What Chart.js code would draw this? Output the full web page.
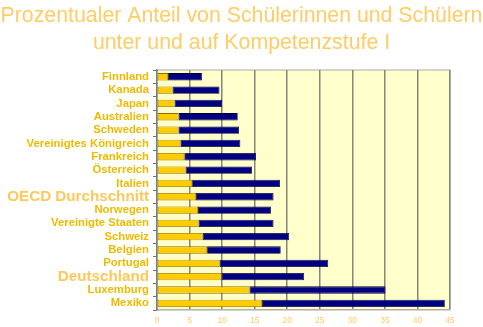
<!DOCTYPE html>
<html>
<head>
<meta charset="utf-8">
<script src="https://cdn.jsdelivr.net/npm/chart.js@4/dist/chart.umd.min.js"></script>
<style>
  html, body { margin: 0; padding: 0; background: #ffffff; }
  #wrap { width: 483px; height: 327px; }
</style>
</head>
<body>
<div id="wrap"><canvas id="myChart" width="483" height="327"></canvas></div>
<script>
const laender = ["Finnland", "Kanada", "Japan", "Australien", "Schweden", "Vereinigtes Königreich",
  "Frankreich", "Österreich", "Italien", "OECD Durchschnitt", "Norwegen", "Vereinigte Staaten",
  "Schweiz", "Belgien", "Portugal", "Deutschland", "Luxemburg", "Mexiko"];
// unter Kompetenzstufe I
const unterStufe1 = [1.7, 2.4, 2.7, 3.3, 3.3, 3.6, 4.2, 4.4, 5.4, 6.0, 6.3, 6.4, 7.0, 7.7, 9.6, 9.9, 14.2, 16.1];
// auf Kompetenzstufe I
const aufStufe1 = [5.2, 7.2, 7.3, 9.1, 9.3, 9.2, 11.0, 10.2, 13.5, 11.9, 11.2, 11.5, 13.3, 11.3, 16.7, 12.7, 20.9, 28.1];
const xTicks = [0, 5, 10, 15, 20, 25, 30, 35, 40, 45];

const hervorheben = ["OECD Durchschnitt", "Deutschland"];

const plotHintergrund = {
  id: "plotHintergrund",
  beforeDraw(chart) {
    const { ctx, chartArea: a } = chart;
    ctx.save();
    ctx.fillStyle = "#ffffcc";
    ctx.fillRect(a.left, a.top, a.right - a.left, a.bottom - a.top);
    ctx.strokeStyle = "#c8c8c0";
    ctx.lineWidth = 1.5;
    ctx.beginPath();
    ctx.moveTo(a.left, a.top);
    ctx.lineTo(a.right, a.top);
    ctx.lineTo(a.right, a.bottom);
    ctx.stroke();
    ctx.restore();
  }
};

const config = {
  type: "bar",
  data: {
    labels: laender,
    datasets: [
      {
        label: "unter Kompetenzstufe I",
        data: unterStufe1,
        backgroundColor: "#ffcc00",
        borderColor: "#8a7000",
        borderWidth: 0.8,
        borderSkipped: false,
        categoryPercentage: 1,
        barPercentage: 0.55
      },
      {
        label: "auf Kompetenzstufe I",
        data: aufStufe1,
        backgroundColor: "#000080",
        borderColor: "#000033",
        borderWidth: 0.8,
        borderSkipped: false,
        categoryPercentage: 1,
        barPercentage: 0.55
      }
    ]
  },
  options: {
    indexAxis: "y",
    responsive: false,
    animation: false,
    layout: { padding: 0 },
    plugins: {
      legend: { display: false },
      tooltip: { enabled: false },
      title: {
        display: true,
        text: ["Prozentualer Anteil von Schülerinnen und Schülern", "unter und auf Kompetenzstufe I"],
        color: "#ffcc66",
        font: { family: "Liberation Sans, Arial, sans-serif", size: 21.3, weight: "normal", lineHeight: 1.27 },
        padding: { top: 3, bottom: 13 }
      }
    },
    scales: {
      x: {
        stacked: true,
        min: 0,
        max: 45,
        afterBuildTicks(scale) { scale.ticks = xTicks.map(v => ({ value: v })); },
        afterFit(scale) { scale.height = 17; },
        grid: { color: "#85857a", lineWidth: 1.5, drawTicks: false },
        border: { display: true, color: "#b0b0a0", width: 1.5 },
        ticks: {
          color: "#ffcc66",
          padding: 6,
          font: { family: "Liberation Sans, Arial, sans-serif", size: 8.5 }
        }
      },
      y: {
        stacked: true,
        afterFit(scale) { scale.width = 157; },
        grid: { drawOnChartArea: false, offset: true, tickLength: 4, color: "#707070" },
        border: { display: true, color: "#808070", width: 1.5 },
        ticks: {
          padding: 4,
          autoSkip: false,
          color(ctx) {
            return hervorheben.includes(laender[ctx.index]) ? "#ffc85a" : "#eebb00";
          },
          font(ctx) {
            const gross = hervorheben.includes(laender[ctx.index]);
            return { family: "Liberation Sans, Arial, sans-serif", size: gross ? 15.2 : 11.3, weight: "bold" };
          }
        }
      },
      // leerer Rand rechts, damit der Titel mittig bleibt
      rechts: {
        axis: "y",
        position: "right",
        display: true,
        afterFit(scale) { scale.width = 33; },
        grid: { display: false },
        border: { display: false },
        ticks: { display: false }
      }
    }
  },
  plugins: [plotHintergrund]
};

const myChart = document.querySelector("#myChart");
const chart = new Chart(myChart, config);
</script>
</body>
</html>
